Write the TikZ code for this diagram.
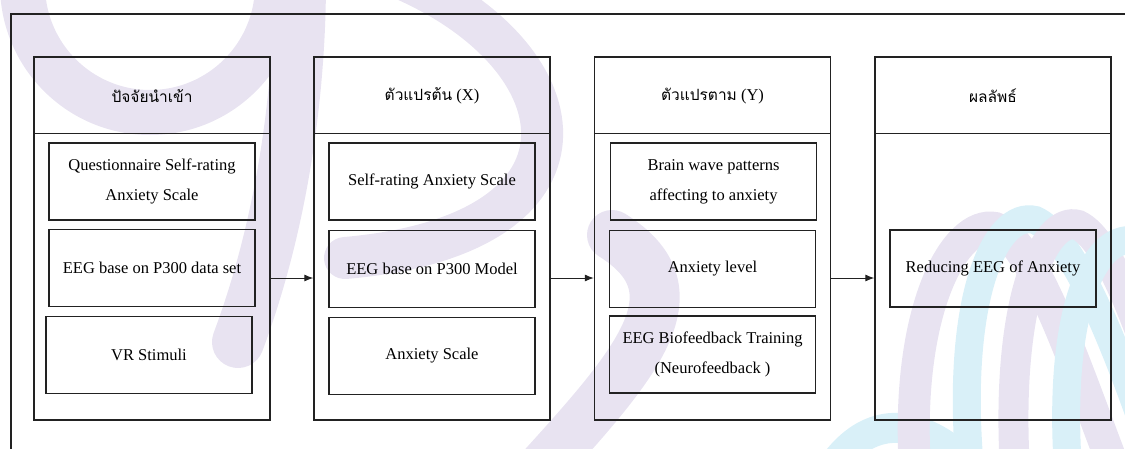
\documentclass[tikz,border=0pt]{standalone}
\usepackage{fontspec}
\setmainfont{Liberation Serif}
\newfontfamily\thaifont[Script=Thai]{Loma}
\usetikzlibrary{arrows.meta}
\definecolor{wmp}{HTML}{E8E3F1}
\definecolor{wmc}{HTML}{D9F0F8}
\definecolor{ln}{HTML}{222222}
\tikzset{
 colbox/.style={draw=ln, line width=1.3pt, minimum width=236pt, minimum height=363pt, inner sep=0pt},
 itembox/.style={draw=ln, line width=1.5pt, minimum width=206pt, minimum height=77pt, inner sep=0pt, align=center, font=\fontsize{16.5}{30}\selectfont},
 head/.style={inner sep=0pt, font=\fontsize{16.5}{20}\selectfont},
 flow/.style={draw=ln, line width=1pt, -{Latex[length=9pt,width=7pt]}},
 wm/.style={line width=50pt, line cap=round}
}
\newcommand{\thaitxt}[1]{{\thaifont\fontsize{15.5}{18}\selectfont #1}}
\begin{document}
\begin{tikzpicture}[x=1pt,y=-1pt]
\useasboundingbox (0,0) rectangle (1125,448);
\begin{scope}
\clip (0,0) rectangle (1125,448);
% watermark
\fill[wmp] (0,-15) arc[start angle=180,end angle=0,radius=150] -- (255,-15) arc[start angle=0,end angle=180,radius=105] -- cycle;
\draw[wmp, wm, line width=52pt] (300,-20) .. controls (300,100) and (280,230) .. (238,342);
\draw[wmp, wm, line width=42pt] (405,-20) .. controls (585,60) and (610,235) .. (345,258);
\draw[wmp, wm] (612,235) .. controls (700,290) and (640,360) .. (540,470);
\draw[wmc, wm, line width=30pt] (830,470) .. controls (860,425) and (900,415) .. (945,445);
\draw[wmp, wm, line width=32pt] (915,470) .. controls (905,310) and (955,220) .. (995,228) .. controls (1035,240) and (1080,380) .. (1115,470);
\draw[wmc, wm, line width=28pt] (970,470) .. controls (955,300) and (995,210) .. (1035,220) .. controls (1070,235) and (1110,330) .. (1145,430);
\draw[wmp, wm, line width=30pt] (1015,470) .. controls (1005,300) and (1045,215) .. (1078,225) .. controls (1110,240) and (1140,330) .. (1165,400);
\draw[wmc, wm, line width=28pt] (1068,470) .. controls (1058,320) and (1090,240) .. (1130,240);
\end{scope}
% outer frame
\draw[ln, line width=1.3pt] (1130,14) -- (11,14) -- (11,455);
% columns
\node[colbox] (c1) at (152,238.5) {};
\node[colbox] (c2) at (432,238.5) {};
\node[colbox] (c3) at (712.5,238.5) {};
\node[colbox] (c4) at (993,238.5) {};
\foreach \c in {c1,c2,c3,c4}{
  \draw[ln, line width=1.3pt] ([yshift=-77pt]\c.north west) -- ([yshift=-77pt]\c.north east);
}
% headers
\node[head] (h1) at (152,96) {\thaitxt{ปัจจัยนำเข้า}};
\node[head] (h2) at (432,96) {\thaitxt{ตัวแปรต้น} (X)};
\node[head] (h3) at (712.5,96) {\thaitxt{ตัวแปรตาม} (Y)};
\node[head] (h4) at (993,96) {\thaitxt{ผลลัพธ์}};
% items
\node[itembox] (b11) at (152,181.5) {Questionnaire Self-rating\\Anxiety Scale};
\node[itembox] (b12) at (152,268) {EEG base on P300 data set};
\node[itembox] (b13) at (149,355) {VR Stimuli};
\node[itembox] (b21) at (432,181.5) {Self-rating Anxiety Scale};
\node[itembox] (b22) at (432,269) {EEG base on P300 Model};
\node[itembox] (b23) at (432,356) {Anxiety Scale};
\node[itembox] (b31) at (713.5,181.5) {Brain wave patterns\\affecting to anxiety};
\node[itembox] (b32) at (712.5,269) {Anxiety level};
\node[itembox] (b33) at (712.5,354.5) {EEG Biofeedback Training\\(Neurofeedback )};
\node[itembox] (b41) at (993,268.5) {Reducing EEG of Anxiety};
% arrows
\draw[flow] ([yshift=-39.5pt]c1.east) -- ([yshift=-39.5pt]c2.west);
\draw[flow] ([yshift=-39.5pt]c2.east) -- ([yshift=-39.5pt]c3.west);
\draw[flow] ([yshift=-39.5pt]c3.east) -- ([yshift=-39.5pt]c4.west);
\end{tikzpicture}
\end{document}
